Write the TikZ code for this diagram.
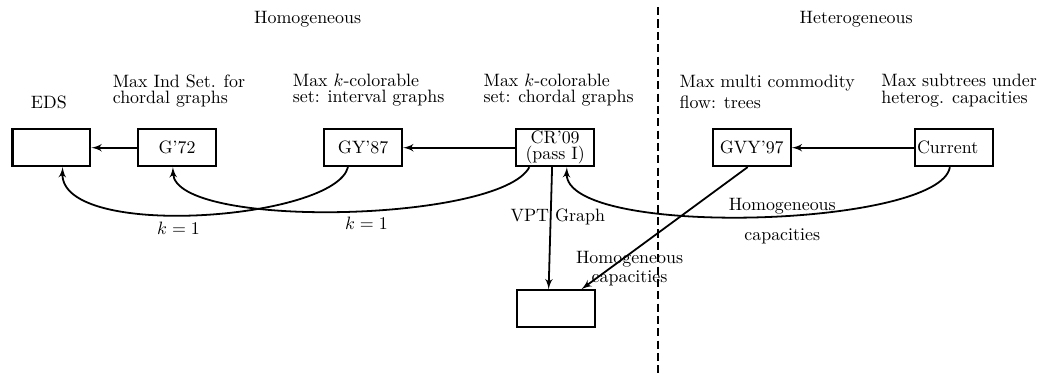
\documentclass[tikz,border=0pt]{standalone}
\usetikzlibrary{arrows}

\begin{document}
\begin{tikzpicture}[->,>=latex',line width=1pt]
  \tikzstyle{box}=[draw=black,very thick,rectangle,minimum width=1.53cm,minimum height=0.72cm,inner sep=1pt]
  \tikzstyle{lbl}=[align=left,anchor=west,font=\linespread{0.75}\selectfont]
  \useasboundingbox (0,0) rectangle (20.36,-7.42);

  % the two halves
  \node (hom) at (6.04,-0.37) {Homogeneous};
  \node (het) at (16.81,-0.37) {Heterogeneous};
  \coordinate (top) at (12.92,-0.14);
  \coordinate (bot) at (12.92,-7.38);
  \draw[-,line width=1.1pt,dash pattern=on 4.5pt off 2.4pt] (top) -- (bot);

  \node[box]                 (EDS)   at (1.01,-2.9)  {};
  \node[box]                 (G72)   at (3.475,-2.9) {G'72};
  \node[box]                 (GY87)  at (7.13,-2.9)  {GY'87};
  \node[box,align=center,font=\linespread{0.75}\selectfont]
                             (CR09)  at (10.9,-2.9)  {CR'09\\(pass I)};
  \node[box]                 (GVY97) at (14.76,-2.9) {GVY'97};
  \node[box,text width=1.45cm] (Cur) at (18.73,-2.9) {Current};
  \node[box]                 (VPT)   at (10.91,-6.06) {};

  \node            (lEDS)   at (0.96,-2.02)  {EDS};
  \node[lbl]       (lG72)   at (2.08,-1.79)  {Max Ind Set. for\\chordal graphs};
  \node[lbl]       (lGY87)  at (5.615,-1.77) {Max $k$-colorable\\set: interval graphs};
  \node[lbl]       (lCR09)  at (9.36,-1.77)  {Max $k$-colorable\\set: chordal graphs};
  \node[align=left,anchor=west]
                   (lGVY97) at (13.21,-1.8)  {Max multi commodity\\flow: trees};
  \node[lbl]       (lCur)   at (17.17,-1.78) {Max subtrees under\\heterog. capacities};

  \path (G72) edge (EDS)
        (CR09) edge (GY87)
        (Cur) edge (GVY97)
        (GY87.232) edge [out=256,in=268,out looseness=0.49,in looseness=0.66]
                   node[pos=0.55,below] {$k=1$} (EDS.300)
        (CR09.217) edge [out=242,in=272,looseness=0.45]
                   node[pos=0.45,below] {$k=1$} (G72.258)
        (CR09.261) edge node[pos=0.41,xshift=0.14cm] {VPT Graph} (VPT.110)
        (Cur.258)  edge [out=261,in=268,out looseness=0.41,in looseness=0.48]
                   node[pos=0.45,yshift=-0.1cm,align=center] {Homogeneous\\[5pt]capacities} (CR09.301)
        (GVY97.258) edge node[pos=0.83,xshift=0.39cm,align=center,font=\linespread{0.88}\selectfont]
                   {Homogeneous\\capacities} (VPT.37);
\end{tikzpicture}
\end{document}
